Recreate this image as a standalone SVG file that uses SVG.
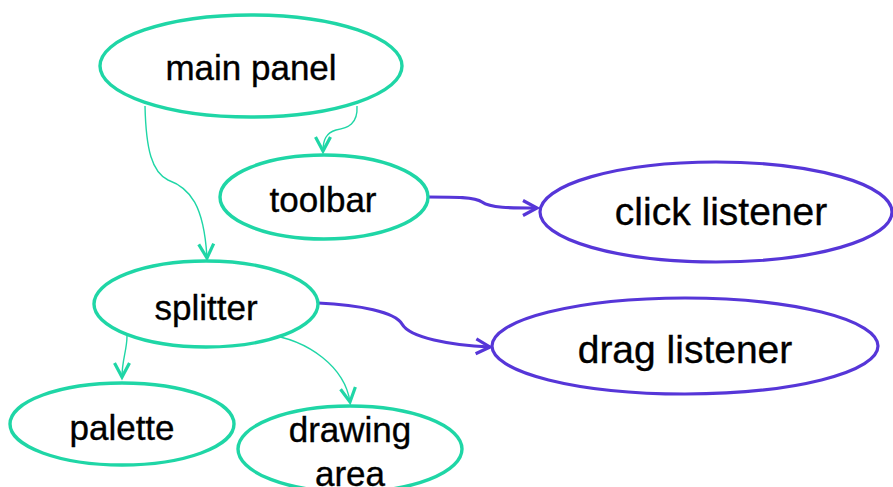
<svg xmlns="http://www.w3.org/2000/svg" width="893" height="487" viewBox="0 0 893 487">
  <style>
    .g { fill: #ffffff; stroke: #1fd6a6; stroke-width: 3.4; }
    .p { fill: #ffffff; stroke: #5636d8; stroke-width: 3.2; }
    .t { font-family: "Liberation Sans", Arial, sans-serif; fill: #000000; stroke: #000000; stroke-width: 0.35; text-anchor: middle; }
    .ts { font-size: 35px; }
    .tl { font-size: 39px; }
    .eg { fill: none; stroke: #1fd6a6; stroke-width: 1.4; }
    .ep { fill: none; stroke: #5636d8; stroke-width: 3.2; }
  </style>
  <defs>
    <marker id="arrG" markerUnits="userSpaceOnUse" viewBox="-16 -10 18 20" refX="0" refY="0" markerWidth="18" markerHeight="20" orient="auto" overflow="visible">
      <path d="M-14,-7.5 L0,0 L-14,7.5" fill="none" stroke="#1fd6a6" stroke-width="3.2" stroke-linejoin="miter"/>
    </marker>
    <marker id="arrP" markerUnits="userSpaceOnUse" viewBox="-16 -10 18 20" refX="0" refY="0" markerWidth="18" markerHeight="20" orient="auto" overflow="visible">
      <path d="M-14,-7.5 L0,0 L-14,7.5" fill="none" stroke="#5636d8" stroke-width="3.2" stroke-linejoin="miter"/>
    </marker>
  </defs>

  <g id="connectors">
    <path class="eg" d="M145,106 C146,150 152,172 168,180 C190,188 204,205 207,258" marker-end="url(#arrG)"/>
    <path class="eg" d="M357,106 C358,124 348,128 336,130 C326,133 323,140 323,151" marker-end="url(#arrG)"/>
    <path class="ep" d="M428,197 C455,197 475,197 482,202 C490,208 510,208 537,208" marker-end="url(#arrP)"/>
    <path class="ep" d="M318,303 C360,305 395,312 402,324 C410,338 450,345 490,347" marker-end="url(#arrP)"/>
    <path class="eg" d="M127,336 C127,350 122,360 122,377" marker-end="url(#arrG)"/>
    <path class="eg" d="M265,334 C310,340 345,368 350,402" marker-end="url(#arrG)"/>
  </g>

  <g id="main-panel">
    <ellipse class="g" cx="251" cy="66" rx="151" ry="51"/>
    <text class="t ts" x="251" y="80">main panel</text>
  </g>
  <g id="toolbar">
    <ellipse class="g" cx="324" cy="197" rx="104" ry="42"/>
    <text class="t ts" x="323" y="212">toolbar</text>
  </g>
  <g id="click-listener">
    <ellipse class="p" cx="716" cy="212" rx="176" ry="50"/>
    <text class="t tl" x="721" y="225">click listener</text>
  </g>
  <g id="splitter">
    <ellipse class="g" cx="206" cy="304" rx="112" ry="43"/>
    <text class="t ts" x="206" y="320">splitter</text>
  </g>
  <g id="drag-listener">
    <ellipse class="p" cx="685" cy="346" rx="193" ry="48"/>
    <text class="t tl" x="685" y="363">drag listener</text>
  </g>
  <g id="palette">
    <ellipse class="g" cx="122" cy="424" rx="112" ry="41"/>
    <text class="t ts" x="122" y="440">palette</text>
  </g>
  <g id="drawing-area">
    <ellipse class="g" cx="350" cy="449" rx="112" ry="43"/>
    <text class="t ts" x="350" y="442">drawing</text>
    <text class="t ts" x="350" y="486">area</text>
  </g>
</svg>
